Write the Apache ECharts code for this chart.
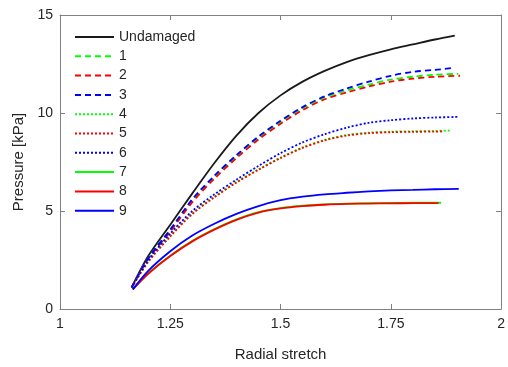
<!DOCTYPE html>
<html><head><meta charset="utf-8">
<script src="https://cdn.jsdelivr.net/npm/echarts@6/dist/echarts.min.js"></script>
<style>html,body{margin:0;padding:0;background:#fff}#c{width:508px;height:367px}</style>
</head><body><div id="c"></div>
<script>
// Radial stretch (x) and pressure in kPa (y) for each case
const xUndamaged = [1.1625,1.2,1.25,1.3,1.35,1.4,1.45,1.5,1.55,1.6,1.65,1.7,1.75,1.8,1.85,1.895];
const yUndamaged = [1.1,2.7,4.3,5.9,7.45,8.85,10.0,10.9,11.6,12.15,12.6,12.95,13.25,13.5,13.75,13.95];

const x1 = [1.1625,1.2,1.25,1.3,1.35,1.4,1.45,1.5,1.55,1.6,1.65,1.7,1.75,1.8,1.85,1.903];
const y1 = [1.1,2.6,4.05,5.55,6.75,7.8,8.75,9.55,10.25,10.8,11.15,11.45,11.7,11.85,11.95,12.0];
const x2 = [1.1625,1.2,1.25,1.3,1.35,1.4,1.45,1.5,1.55,1.6,1.65,1.7,1.75,1.8,1.85,1.907];
const y2 = [1.1,2.55,3.95,5.45,6.65,7.7,8.65,9.45,10.15,10.7,11.05,11.35,11.6,11.75,11.85,11.9];
const x3 = [1.1625,1.2,1.25,1.3,1.35,1.4,1.45,1.5,1.55,1.6,1.65,1.7,1.75,1.8,1.85,1.892];
const y3 = [1.1,2.6,4.05,5.6,6.8,7.85,8.8,9.6,10.3,10.85,11.25,11.6,11.9,12.1,12.2,12.3];

const x4 = [1.1625,1.2,1.25,1.3,1.35,1.4,1.45,1.5,1.55,1.6,1.65,1.7,1.75,1.8,1.85,1.884];
const y4 = [1.1,2.42,3.73,4.88,5.73,6.48,7.13,7.73,8.25,8.63,8.88,9.0,9.05,9.07,9.09,9.1];
const x5 = [1.1625,1.2,1.25,1.3,1.35,1.4,1.45,1.5,1.55,1.6,1.65,1.7,1.75,1.8,1.85,1.871];
const y5 = [1.1,2.4,3.7,4.85,5.7,6.45,7.1,7.7,8.22,8.6,8.85,8.97,9.02,9.04,9.05,9.06];
const x6 = [1.1625,1.2,1.25,1.3,1.35,1.4,1.45,1.5,1.55,1.6,1.65,1.7,1.75,1.8,1.85,1.901];
const y6 = [1.1,2.5,3.85,5.0,5.85,6.6,7.3,7.95,8.5,8.92,9.25,9.5,9.63,9.72,9.77,9.8];

const x7 = [1.165,1.2,1.25,1.3,1.35,1.4,1.45,1.5,1.55,1.6,1.65,1.7,1.75,1.8,1.85,1.864];
const y7 = [1.0,1.82,2.72,3.48,4.08,4.57,4.94,5.15,5.27,5.34,5.38,5.4,5.41,5.42,5.42,5.42];
const x8 = [1.165,1.2,1.25,1.3,1.35,1.4,1.45,1.5,1.55,1.6,1.65,1.7,1.75,1.8,1.85,1.858];
const y8 = [1.0,1.8,2.7,3.45,4.05,4.55,4.92,5.13,5.25,5.32,5.36,5.38,5.39,5.4,5.4,5.4];
const x9 = [1.165,1.2,1.25,1.3,1.35,1.4,1.45,1.5,1.55,1.6,1.65,1.7,1.75,1.8,1.85,1.904];
const y9 = [1.0,1.95,2.95,3.75,4.35,4.85,5.25,5.55,5.73,5.85,5.93,6.0,6.05,6.08,6.11,6.13];

const seriesNames = ['Undamaged','1','2','3','4','5','6','7','8','9'];
const xTicks = [1, 1.25, 1.5, 1.75, 2];
const yTicks = [0, 5, 10, 15];

const xs = [xUndamaged,x1,x2,x3,x4,x5,x6,x7,x8,x9];
const ys = [yUndamaged,y1,y2,y3,y4,y5,y6,y7,y8,y9];
const colors = ['#1a1a1a','#00ff00','#ff0000','#0000ff','#00ff00','#ff0000','#0000ff','#00ff00','#ff0000','#0000ff'];
const dashT = [6,4], dotT = [2,2];
const types = ['solid',dashT,dashT,dashT,dotT,dotT,dotT,'solid','solid','solid'];

const series = seriesNames.map((n,i)=>({
  name: n, type:'line', smooth:0.3, symbol:'none', showSymbol:false,
  data: xs[i].map((x,k)=>[x, ys[i][k]]),
  lineStyle:{color:colors[i], width:1.8, type:types[i]},
  itemStyle:{color:colors[i]}, xAxisIndex:0, yAxisIndex:0
}));

const axisCol = '#808080', txtCol = '#262626';
const font = 'Liberation Sans, Arial, Helvetica, sans-serif';
const baseX = {type:'value', min:1, max:2, interval:0.25,
  axisLine:{show:true, onZero:false, lineStyle:{color:axisCol,width:1}},
  axisTick:{show:true, inside:true, length:5, lineStyle:{color:axisCol}},
  splitLine:{show:false}};
const baseY = {type:'value', min:0, max:15, interval:5,
  axisLine:{show:true, onZero:false, lineStyle:{color:axisCol,width:1}},
  axisTick:{show:true, inside:true, length:5, lineStyle:{color:axisCol}},
  splitLine:{show:false}};

const chart = echarts.init(document.getElementById('c'), null, {renderer:'canvas'});
chart.setOption({
  animation:false,
  backgroundColor:'#fff',
  textStyle:{fontFamily:font},
  grid:{left:60, right:5, top:15, bottom:55, containLabel:false},
  legend:{
    data: seriesNames, orient:'vertical', left:74, top:30, padding:0,
    itemWidth:39, itemHeight:14, itemGap:5.3,
    itemStyle:{color:'rgba(0,0,0,0)', borderWidth:0, opacity:0},
    textStyle:{fontSize:14, color:txtCol, fontFamily:font}
  },
  xAxis:[
    Object.assign({}, baseX, {position:'bottom',
      axisLabel:{show:true, fontSize:14, color:txtCol, margin:8, fontFamily:font,
        formatter:(v)=> xTicks.includes(v) ? String(v) : ''},
      name:'Radial stretch', nameLocation:'middle', nameGap:38,
      nameTextStyle:{fontSize:15, color:txtCol, fontFamily:font}}),
    Object.assign({}, baseX, {position:'top', axisLabel:{show:false}})
  ],
  yAxis:[
    Object.assign({}, baseY, {position:'left',
      axisLabel:{show:true, fontSize:14, color:txtCol, margin:7, fontFamily:font,
        formatter:(v)=> yTicks.includes(v) ? String(v) : ''},
      name:'Pressure [kPa]', nameLocation:'middle', nameGap:25, nameRotate:90,
      nameTextStyle:{fontSize:15, color:txtCol, fontFamily:font}}),
    Object.assign({}, baseY, {position:'right', axisLabel:{show:false}})
  ],
  series: series
});
</script></body></html>
